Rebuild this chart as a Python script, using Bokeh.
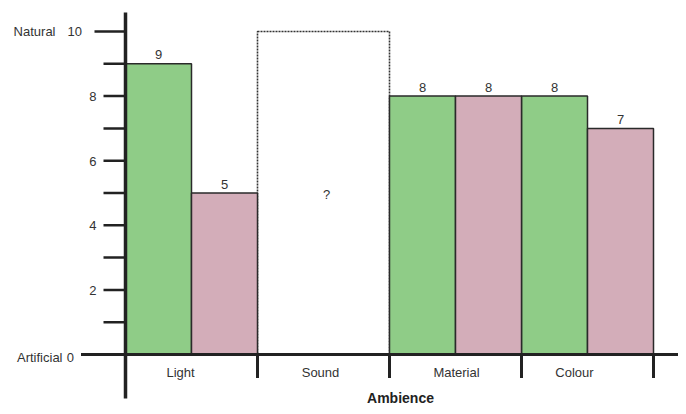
from bokeh.plotting import figure
from bokeh.models import Range1d
from bokeh.core.properties import value
from bokeh.embed import file_html
from bokeh.resources import INLINE

# ---------------- data ----------------
categories = ["Light", "Sound", "Material", "Colour"]
natural_values = [9, None, 8, 8]        # green bars
artificial_values = [5, None, 8, 7]     # pink bars
unknown_categories = ["Sound"]
unknown_label = "?"
scale_max = 10
y_ticks = [0, 1, 2, 3, 4, 5, 6, 7, 8, 9, 10]
y_tick_labels = ["0", "", "2", "", "4", "", "6", "", "8", "", "10"]
scale_end_values = [0, 10]
scale_end_captions = ["Artificial", "Natural"]
x_axis_title = "Ambience"

# ---------------- layout / style ----------------
W, H = 678, 406
X0_PX, X_PER = 125.0, 132.0     # px of x=0, px per category
Y0_PX, Y_PER = 354.0, 32.3      # px of y=0, px per unit


def X(px):
    return (px - X0_PX) / X_PER


def Y(py):
    return (Y0_PX - py) / Y_PER


GREEN = "#8fcc87"
PINK = "#d3adb9"
INK = "#222222"
TEXT = "#333333"
FONT = "Liberation Sans"
label_nudge_px = [-11, -3, 1, -13]

p = figure(width=W, height=H, output_backend="svg", toolbar_location=None,
           x_range=Range1d(X(0), X(W)),
           y_range=Range1d(Y(H), Y(0)),
           x_axis_location=None, y_axis_location=None,
           min_border=0, min_border_left=0, min_border_right=0,
           min_border_top=0, min_border_bottom=0)
p.outline_line_color = None
p.xgrid.visible = False
p.ygrid.visible = False
p.background_fill_color = "white"
p.border_fill_color = "white"

# unknown (dotted) category
unk_idx = [categories.index(c) for c in unknown_categories]
p.quad(left=unk_idx, right=[i + 1 for i in unk_idx], bottom=[0] * len(unk_idx),
       top=[scale_max] * len(unk_idx), fill_color=None, line_color="#333333",
       line_width=1.6, line_dash="2 1")

# bars
g_x = [i + 0.25 for i, v in enumerate(natural_values) if v is not None]
g_top = [v for v in natural_values if v is not None]
a_x = [i + 0.75 for i, v in enumerate(artificial_values) if v is not None]
a_top = [v for v in artificial_values if v is not None]
p.vbar(x=g_x, top=g_top, bottom=0, width=0.5, fill_color=GREEN,
       line_color="#2a2a2a", line_width=1.5)
p.vbar(x=a_x, top=a_top, bottom=0, width=0.5, fill_color=PINK,
       line_color="#2a2a2a", line_width=1.5)

# value labels (cap centre ~9px above bar top)
vals_x = g_x + a_x
vals_top = g_top + a_top
pad = 9.0 / Y_PER
p.text(x=vals_x, y=[v + pad for v in vals_top], text=[str(v) for v in vals_top],
       text_align="center", text_baseline="middle", text_color=TEXT,
       text_font=value(FONT), text_font_size="13px")

# unknown label
p.text(x=[i + 0.5 + 3 / X_PER for i in unk_idx], y=[scale_max / 2 - 1 / Y_PER] * len(unk_idx),
       text=[unknown_label] * len(unk_idx), text_align="center",
       text_baseline="middle", text_color=TEXT, text_font=value(FONT),
       text_font_size="13px")

# axes lines
p.segment(x0=[0], y0=[Y(398)], x1=[0], y1=[Y(12)], line_color=INK,
          line_width=3.5, line_cap="butt")
p.segment(x0=[X(80.5)], y0=[0], x1=[X(700)], y1=[0], line_color=INK,
          line_width=3, line_cap="butt")

# y ticks
tick_start = []
label_right = []
for t in y_ticks:
    if t == scale_end_values[0]:
        tick_start.append(X(80.5))
        label_right.append(X(73.5))
    elif t == scale_end_values[1]:
        tick_start.append(X(94))
        label_right.append(X(81.5))
    else:
        tick_start.append(X(103))
        label_right.append(X(96))
p.segment(x0=tick_start, y0=y_ticks, x1=[0] * len(y_ticks), y1=y_ticks,
          line_color=INK, line_width=2.5, line_cap="butt")

# y tick labels
lab_x, lab_y, lab_t = [], [], []
for t, s, xr in zip(y_ticks, y_tick_labels, label_right):
    if s:
        lab_x.append(xr)
        lab_y.append(t - (2.5 if t == 0 else 0.3) / Y_PER)
        lab_t.append(s)
p.text(x=lab_x, y=lab_y, text=lab_t, text_align="right",
       text_baseline="middle", text_color=TEXT, text_font=value(FONT),
       text_font_size="13px")

# scale end captions
cap_right = {0: X(62), 10: X(55)}
p.text(x=[cap_right[v] for v in scale_end_values],
       y=[v - (2.5 if v == 0 else 0.3) / Y_PER for v in scale_end_values],
       text=scale_end_captions, text_align="right", text_baseline="middle",
       text_color=TEXT, text_font=value(FONT), text_font_size="13px")

# category boundary ticks
bounds = list(range(len(categories) + 1))
p.segment(x0=bounds, y0=[0] * len(bounds), x1=bounds, y1=[Y(377.5)] * len(bounds),
          line_color=INK, line_width=3, line_cap="butt")

# category labels
p.text(x=[i + 0.5 + n / X_PER for i, n in enumerate(label_nudge_px)],
       y=[Y(371.7)] * len(categories), text=categories, text_align="center",
       text_baseline="middle", text_color=TEXT, text_font=value(FONT),
       text_font_size="13px")

# axis title
p.text(x=[X(400)], y=[Y(397)], text=[x_axis_title], text_align="center",
       text_baseline="middle", text_color="#222222", text_font=value(FONT),
       text_font_size="14px", text_font_style="bold")

open("out.html", "w").write(file_html(p, INLINE))
